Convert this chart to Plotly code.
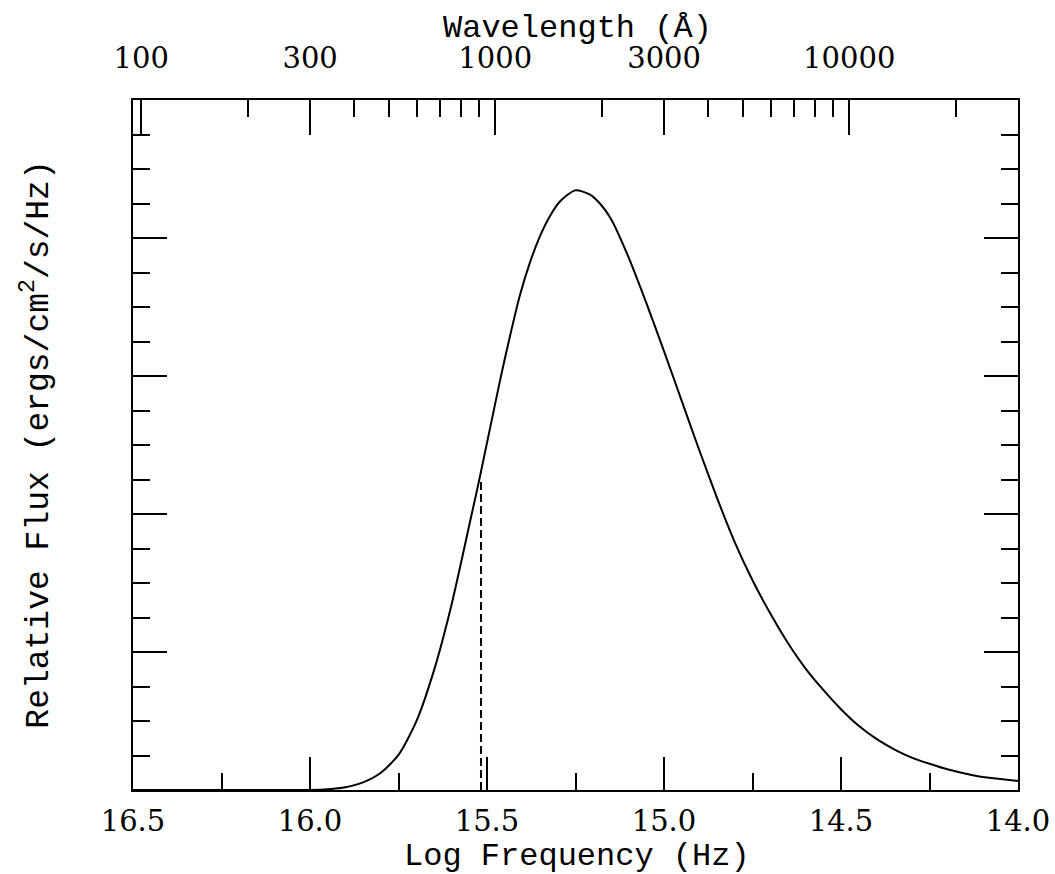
import numpy as np
import plotly.graph_objects as go

# ---- data ----
log_freq = [16.5, 16.2, 16.0, 15.95, 15.9, 15.85, 15.80, 15.75, 15.70, 15.65,
            15.60, 15.55, 15.52, 15.463, 15.435, 15.407, 15.379, 15.350, 15.322,
            15.294, 15.251, 15.209, 15.181, 15.15, 15.10, 15.05, 15.00, 14.95,
            14.90, 14.85, 14.80, 14.75, 14.70, 14.65, 14.60, 14.55, 14.50, 14.45,
            14.40, 14.35, 14.30, 14.25, 14.20, 14.15, 14.10, 14.05, 14.0]
rel_flux = [0.0, 0.0, 0.0, 0.001, 0.004, 0.011, 0.025, 0.051, 0.099, 0.173,
            0.269, 0.384, 0.454, 0.594, 0.658, 0.717, 0.764, 0.803, 0.832,
            0.853, 0.869, 0.863, 0.850, 0.828, 0.772, 0.706, 0.636, 0.564,
            0.492, 0.423, 0.359, 0.304, 0.256, 0.213, 0.176, 0.145, 0.117, 0.093,
            0.074, 0.059, 0.047, 0.038, 0.030, 0.024, 0.019, 0.016, 0.013]

marker_logfreq = [15.517, 15.517]
marker_flux = [0.0, 0.449]

x_major = [16.5, 16.0, 15.5, 15.0, 14.5, 14.0]
x_minor = [16.25, 15.75, 15.25, 14.75, 14.25]

wl_major = [100, 300, 1000, 3000, 10000]
wl_major_labels = ["100", "300", "1000", "3000", "10000"]
wl_minor = [200, 400, 500, 600, 700, 800, 900,
            2000, 4000, 5000, 6000, 7000, 8000, 9000, 20000]

y_major = [0.0, 0.2, 0.4, 0.6, 0.8, 1.0]
y_minor = [round(0.05 * i, 2) for i in range(21)]

C_ANGSTROM = 2.99792458e18  # speed of light in Angstrom/s


def wl_to_logfreq(w):
    return float(np.log10(C_ANGSTROM / w))


FONT = "Liberation Mono"
TICKFONT = dict(family="DejaVu Serif", size=29, color="black")

fig = go.Figure()
fig.add_trace(go.Scatter(x=log_freq, y=rel_flux, mode="lines",
                         line=dict(color="black", width=2, shape="spline", smoothing=0.7),
                         showlegend=False, hoverinfo="skip"))
fig.add_trace(go.Scatter(x=marker_logfreq, y=marker_flux, mode="lines",
                         line=dict(color="black", width=2, dash="8px,4px"),
                         showlegend=False, hoverinfo="skip"))
# empty trace to activate the top (wavelength) axis
fig.add_trace(go.Scatter(x=[None], y=[None], xaxis="x2", yaxis="y",
                         showlegend=False, hoverinfo="skip"))

fig.update_layout(
    width=1055, height=874, autosize=False,
    margin=dict(l=133, r=37, t=100, b=84, pad=0, autoexpand=False),
    paper_bgcolor="white", plot_bgcolor="white",
    xaxis=dict(range=[16.5, 14.0], showgrid=False, zeroline=False, automargin=False,
               showline=True, linecolor="black", linewidth=2, mirror=False,
               ticks="inside", ticklen=33, tickwidth=2, tickcolor="black",
               tickmode="array", tickvals=x_major,
               ticktext=[f"{v:.1f}" for v in x_major],
               tickfont=TICKFONT, ticklabelstandoff=4,
               minor=dict(tickmode="array", tickvals=x_minor, ticks="inside",
                          ticklen=17, tickwidth=2, tickcolor="black", showgrid=False)),
    xaxis2=dict(range=[16.5, 14.0], overlaying="x", side="top", anchor="y",
                showgrid=False, zeroline=False, automargin=False,
                showline=True, linecolor="black", linewidth=2,
                ticks="inside", ticklen=35, tickwidth=2, tickcolor="black",
                tickmode="array", tickvals=[wl_to_logfreq(w) for w in wl_major],
                ticktext=wl_major_labels, tickfont=TICKFONT, ticklabelstandoff=18,
                minor=dict(tickmode="array", tickvals=[wl_to_logfreq(w) for w in wl_minor],
                           ticks="inside", ticklen=17, tickwidth=2, tickcolor="black",
                           showgrid=False)),
    yaxis=dict(range=[0, 1], showgrid=False, zeroline=False, automargin=False,
               showline=True, linecolor="black", linewidth=2, mirror="ticks",
               ticks="inside", ticklen=34, tickwidth=2, tickcolor="black",
               tickmode="array", tickvals=y_major, showticklabels=False,
               minor=dict(tickmode="array", tickvals=y_minor, ticks="inside",
                          ticklen=17, tickwidth=2, tickcolor="black", showgrid=False)),
    annotations=[
        dict(text="Wavelength (Å)", xref="paper", yref="paper", x=0.5017, y=1.104,
             xanchor="center", yanchor="middle", showarrow=False,
             font=dict(family=FONT, size=32, color="black")),
        dict(text="Log Frequency (Hz)", xref="paper", yref="paper", x=0.5017, y=-0.096,
             xanchor="center", yanchor="middle", showarrow=False,
             font=dict(family=FONT, size=32, color="black")),
        dict(text="Relative Flux (ergs/cm<sup>2</sup>/s/Hz)", xref="paper", yref="paper",
             x=-0.110, y=0.50, xanchor="center", yanchor="middle", showarrow=False,
             textangle=-90, font=dict(family=FONT, size=33, color="black")),
    ],
)

fig.write_html("out.html", config={"displayModeBar": False},
               post_script="document.body.style.margin='0';document.body.style.overflow='hidden';")
